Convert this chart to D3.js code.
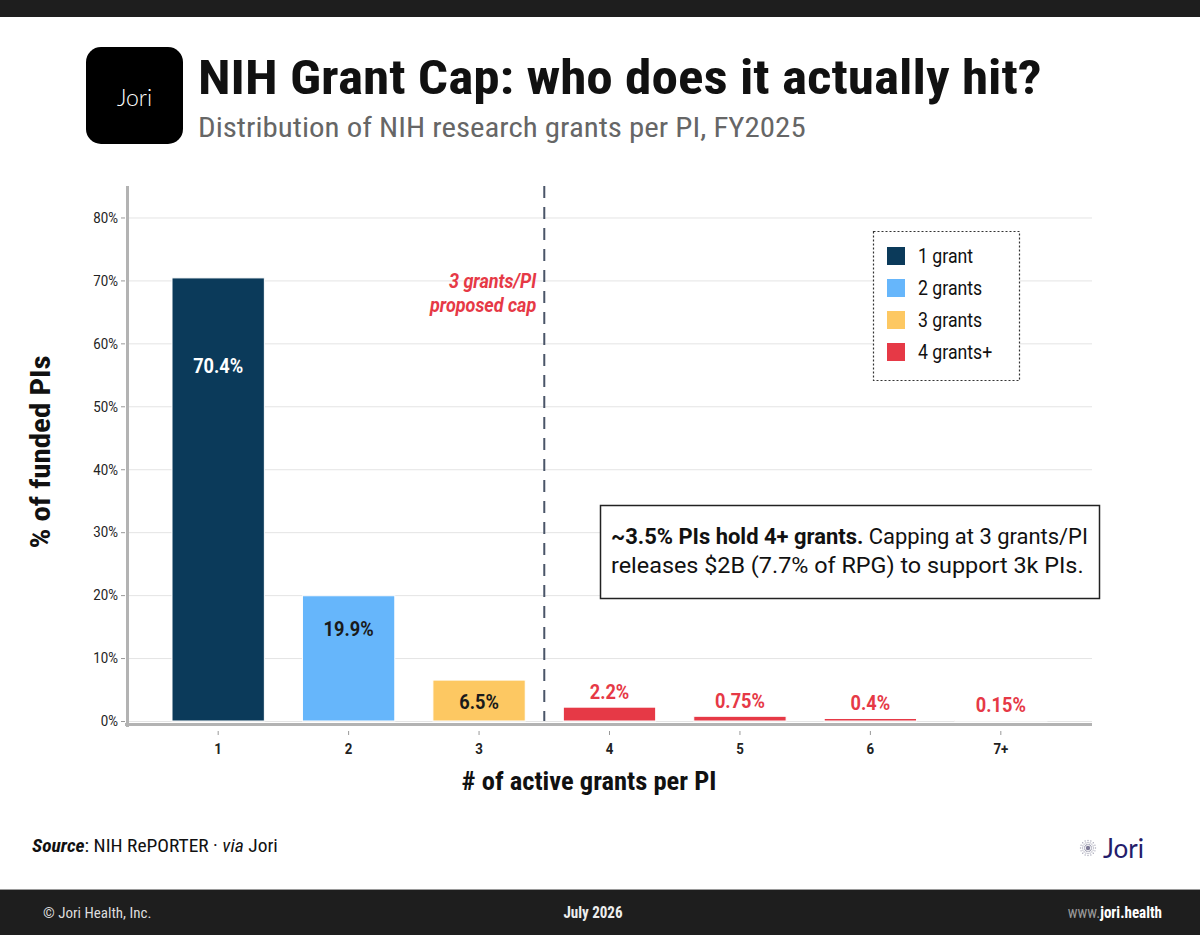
<!DOCTYPE html>
<html><head><meta charset="utf-8">
<script src="https://cdn.jsdelivr.net/npm/d3@7"></script>
<style>
html,body{margin:0;padding:0;background:#fff;}
svg{display:block;}
text{font-family:"Roboto Condensed","Roboto",sans-serif;}
</style></head>
<body>
<svg id="chart" width="1200" height="935"></svg>
<script>
// ---- data ----
const categories = ["1","2","3","4","5","6","7+"];
const values = [70.4, 19.9, 6.5, 2.2, 0.75, 0.4, 0.15];
const valueLabels = ["70.4%","19.9%","6.5%","2.2%","0.75%","0.4%","0.15%"];
const barGroups = ["1 grant","2 grants","3 grants","4 grants+","4 grants+","4 grants+","4 grants+"];
const legendLabels = ["1 grant","2 grants","3 grants","4 grants+"];
const legendColors = ["#0b3a5a","#66b6fb","#fdc862","#e63946"];
const yTicks = [0,10,20,30,40,50,60,70,80];
const insideLabelAt = [56.4, 14.6, 3.0]; // label centre (in % units) for bars labelled inside
const capAfter = "3";
const capLines = ["3 grants/PI","proposed cap"];

const svg = d3.select("#chart");
const W = 1200, H = 935;
const COND = 0.885; // emulate condensed face

function scaleAbout(node, k, anchor){
  const bb = node.getBBox();
  const ox = anchor==="end" ? bb.x+bb.width : anchor==="middle" ? bb.x+bb.width/2 : bb.x;
  const oy = bb.y + bb.height/2;
  const prev = d3.select(node).attr("transform") || "";
  d3.select(node).attr("transform", prev + ` translate(${ox},${oy}) scale(${k},1) translate(${-ox},${-oy})`);
}
function fitWidth(sel, target, anchor){
  sel.each(function(){ scaleAbout(this, target/this.getBBox().width, anchor); });
}
function condense(sel, anchor){
  sel.each(function(){ scaleAbout(this, COND, anchor); });
}

// top & bottom bars
svg.append("rect").attr("x",0).attr("y",0).attr("width",W).attr("height",17).attr("fill","#1e1e1e");
svg.append("rect").attr("x",0).attr("y",889).attr("width",W).attr("height",H-889).attr("fill","#1e1e1e");
svg.append("line").attr("x1",0).attr("x2",W).attr("y1",889.5).attr("y2",889.5).attr("stroke","#9a9a9a").attr("stroke-width",1);

// logo box
svg.append("rect").attr("x",86).attr("y",47).attr("width",97).attr("height",97).attr("rx",15).attr("fill","#000");
svg.append("text").attr("x",134.5).attr("y",106).attr("text-anchor","middle").attr("fill","#fff")
  .style("font-family","Lato, 'Open Sans', sans-serif").style("font-weight",300).style("font-size","23px").text("Jori");

// title
const title = svg.append("text").attr("x",198).attr("y",94).attr("fill","#111")
  .style("font-weight",700).style("font-size","49px").text("NIH Grant Cap: who does it actually hit?");
fitWidth(title, 844, "start");
const sub = svg.append("text").attr("x",198).attr("y",137).attr("fill","#666")
  .style("font-weight",400).style("font-size","28px").text("Distribution of NIH research grants per PI, FY2025");
fitWidth(sub, 608, "start");

// scales
const x = d3.scaleBand().domain(categories).range([127,1092]).paddingInner(0.292).paddingOuter(0.345);
const y = d3.scaleLinear().domain([0,85]).range([721,186]);
const color = d3.scaleOrdinal().domain(legendLabels).range(legendColors);

// gridlines
svg.append("g").selectAll("line").data(yTicks).join("line")
  .attr("x1",127).attr("x2",1092).attr("y1",d=>y(d)+0.5).attr("y2",d=>y(d)+0.5)
  .attr("stroke","#e4e4e4").attr("stroke-width",1);

// y axis
const yAxis = d3.axisLeft(y).tickValues(yTicks).tickFormat(d=>d+"%").tickSize(4).tickPadding(3);
const gy = svg.append("g").attr("transform","translate(125,0)").call(yAxis);
gy.select(".domain").remove();
gy.selectAll(".tick line").attr("stroke","#999");
gy.selectAll(".tick text").attr("fill","#222").style("font-size","15px").style("font-family","Roboto, sans-serif");
condense(gy.selectAll(".tick text"), "end");
svg.append("line").attr("x1",127.5).attr("x2",127.5).attr("y1",186).attr("y2",727).attr("stroke","#b3b3b3").attr("stroke-width",3);

// bars
svg.append("g").selectAll("rect").data(categories).join("rect")
  .attr("x",d=>x(d)).attr("width",x.bandwidth())
  .attr("y",(d,i)=>y(values[i])).attr("height",(d,i)=>y(0)-y(values[i]))
  .attr("fill",(d,i)=>color(barGroups[i]))
  .attr("stroke","#fff").attr("stroke-width",1);

// x axis
svg.append("line").attr("x1",125).attr("x2",1092).attr("y1",724.5).attr("y2",724.5).attr("stroke","#b3b3b3").attr("stroke-width",3);
const xAxis = d3.axisBottom(x).tickSize(4).tickPadding(8);
const gx = svg.append("g").attr("transform","translate(0,731)").call(xAxis);
gx.select(".domain").remove();
gx.selectAll(".tick line").attr("stroke","#999");
gx.selectAll(".tick text").attr("fill","#222").style("font-size","15px").style("font-weight",700).style("font-family","Roboto, sans-serif");
condense(gx.selectAll(".tick text"), "middle");

// value labels
const vl = svg.append("g").selectAll("text").data(categories).join("text")
  .attr("x",d=>x(d)+x.bandwidth()/2)
  .attr("y",(d,i)=> i<insideLabelAt.length ? y(insideLabelAt[i]) : y(values[i])-15)
  .attr("dy","0.35em").attr("text-anchor","middle")
  .attr("fill",(d,i)=> i===0 ? "#fff" : i<insideLabelAt.length ? "#1a1a1a" : "#e63946")
  .style("font-weight",700).style("font-size","20px")
  .style("font-family","Roboto, sans-serif")
  .text((d,i)=>valueLabels[i]);
vl.each(function(){ scaleAbout(this, 0.91, "middle"); });

// cap dashed line
const capX = x(capAfter) + x.bandwidth() + (x.step()-x.bandwidth())/2;
svg.append("line").attr("x1",capX).attr("x2",capX).attr("y1",186).attr("y2",721)
  .attr("stroke","#4a5568").attr("stroke-width",2).attr("stroke-dasharray","12,9");
const capG = svg.append("g").attr("transform",`translate(${capX-8},0)`);
capG.selectAll("text").data(capLines).join("text")
  .attr("x",0).attr("y",(d,i)=>288+i*24)
  .attr("text-anchor","end").attr("fill","#e63946")
  .style("font-family","Roboto, sans-serif").style("font-weight",700).style("font-style","italic").style("font-size","20px")
  .text(d=>d)
  .attr("transform","scale(0.9,1)");

// legend
svg.append("rect").attr("x",873.5).attr("y",231.5).attr("width",146).attr("height",149)
  .attr("fill","#fff").attr("stroke","#333").attr("stroke-width",1.2).attr("stroke-dasharray","2,2");
const lg = svg.append("g").selectAll("g").data(legendLabels).join("g")
  .attr("transform",(d,i)=>`translate(887,${247+i*32})`);
lg.append("rect").attr("width",18).attr("height",18).attr("fill",d=>color(d));
lg.append("text").attr("x",31).attr("y",9).attr("dy","0.35em").attr("fill","#111")
  .style("font-size","20px").style("font-family","Roboto, sans-serif").text(d=>d);
condense(lg.selectAll("text"), "start");

// annotation box
svg.append("rect").attr("x",600.5).attr("y",505.5).attr("width",499).attr("height",93)
  .attr("fill","#fff").attr("stroke","#222").attr("stroke-width",1.5);
const a1 = svg.append("text").attr("x",611).attr("y",544).attr("fill","#111").style("font-size","22px").style("font-family","Roboto, sans-serif");
a1.append("tspan").style("font-weight",700).text("~3.5% PIs hold 4+ grants.");
a1.append("tspan").text(" Capping at 3 grants/PI");
fitWidth(a1, 477, "start");
const a2 = svg.append("text").attr("x",611).attr("y",573).attr("fill","#111").style("font-size","22px").style("font-family","Roboto, sans-serif")
  .text("releases $2B (7.7% of RPG) to support 3k PIs.");
fitWidth(a2, 473, "start");

// axis titles
const yt = svg.append("text").attr("transform","translate(50,452) rotate(-90)").attr("text-anchor","middle")
  .attr("fill","#111").style("font-weight",700).style("font-size","28px").text("% of funded PIs");
fitWidth(yt, 193, "middle");
const xt = svg.append("text").attr("x",589).attr("y",790).attr("text-anchor","middle")
  .attr("fill","#111").style("font-weight",700).style("font-size","25px").text("# of active grants per PI");
fitWidth(xt, 255, "middle");

// source
const src = svg.append("text").attr("x",32).attr("y",852).attr("fill","#111").style("font-size","18px");
src.append("tspan").style("font-weight",700).style("font-style","italic").text("Source");
src.append("tspan").text(": NIH RePORTER · ");
src.append("tspan").style("font-style","italic").text("via");
src.append("tspan").text(" Jori");
fitWidth(src, 246, "start");

// bottom-right logo
const ic = svg.append("g").attr("transform","translate(1088,848)");
d3.range(16).forEach(i=>{
  const a = i*Math.PI/8;
  [3.5,5.5,7.5].forEach(r=>{
    ic.append("circle").attr("cx",r*Math.cos(a)).attr("cy",r*Math.sin(a)).attr("r",0.7).attr("fill","#a8a8b8");
  });
});
ic.append("circle").attr("r",2.2).attr("fill","#7c7896");
svg.append("text").attr("x",1103).attr("y",858).attr("fill","#241c6b")
  .style("font-family","Lato, 'Open Sans', sans-serif").style("font-size","26px").style("font-weight",400).text("Jori");

// footer
svg.append("text").attr("x",43).attr("y",918).attr("fill","#ddd").style("font-size","15px").text("© Jori Health, Inc.");
const jul = svg.append("text").attr("x",593).attr("y",918).attr("text-anchor","middle").attr("fill","#eee").style("font-size","17px").style("font-weight",700).text("July 2026");
condense(jul, "middle");
const www = svg.append("text").attr("x",1162).attr("y",918).attr("text-anchor","end").style("font-size","17px");
www.append("tspan").attr("fill","#999").text("www.");
www.append("tspan").attr("fill","#fff").style("font-weight",700).text("jori.health");
condense(www, "end");
</script>
</body></html>
